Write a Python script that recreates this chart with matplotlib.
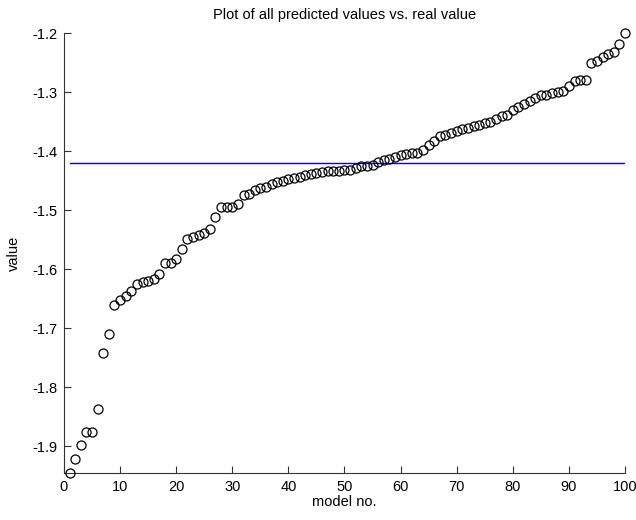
import numpy as np
import matplotlib
matplotlib.use('Agg')
import matplotlib.pyplot as plt

plt.rcParams['font.family'] = ['Liberation Sans', 'DejaVu Sans']
plt.rcParams['axes.unicode_minus'] = False

# predicted values, sorted, one per model
predicted = [
    -1.945, -1.922, -1.898, -1.876, -1.876, -1.837, -1.742, -1.710, -1.660, -1.652,
    -1.645, -1.637, -1.625, -1.622, -1.620, -1.617, -1.608, -1.590, -1.590, -1.582,
    -1.565, -1.548, -1.545, -1.542, -1.538, -1.532, -1.512, -1.495, -1.494, -1.494,
    -1.490, -1.475, -1.472, -1.465, -1.462, -1.460, -1.456, -1.452, -1.450, -1.447,
    -1.445, -1.443, -1.440, -1.438, -1.437, -1.435, -1.434, -1.433, -1.433, -1.432,
    -1.432, -1.428, -1.426, -1.425, -1.423, -1.418, -1.415, -1.413, -1.410, -1.407,
    -1.405, -1.404, -1.403, -1.398, -1.390, -1.382, -1.375, -1.372, -1.370, -1.366,
    -1.363, -1.360, -1.358, -1.355, -1.352, -1.350, -1.345, -1.340, -1.338, -1.330,
    -1.325, -1.320, -1.315, -1.310, -1.305, -1.305, -1.302, -1.300, -1.298, -1.290,
    -1.282, -1.280, -1.279, -1.250, -1.248, -1.240, -1.235, -1.232, -1.218, -1.200,
]
model_no = np.arange(1, len(predicted) + 1)
real_value = -1.420

fig = plt.figure(figsize=(6.36, 5.2), dpi=100)
ax = fig.add_axes([0.1006, 0.0904, 0.8821, 0.8461])

ax.plot(model_no, predicted, 'o', mfc='none', mec='black', ms=6.5, mew=0.9, clip_on=False, zorder=3)
ax.plot([model_no[0], model_no[-1]], [real_value, real_value], color='blue', lw=1)

ax.set_xlim(0, 100)
ax.set_ylim(min(predicted), max(predicted))
ax.set_xticks(np.arange(0, 101, 10))
yt = np.round(np.arange(-1.9, -1.15, 0.1), 1)
ax.set_yticks(yt)
ax.set_yticklabels(['%.1f' % v for v in yt])

ax.spines['top'].set_visible(False)
ax.spines['right'].set_visible(False)
for s in ['left', 'bottom']:
    ax.spines[s].set_color('#333333')
ax.tick_params(direction='in', length=5, labelsize=10.5, pad=5, color='#333333')

ax.set_title('Plot of all predicted values vs. real value', fontsize=10.5, pad=10)
ax.set_xlabel('model no.', fontsize=10.5, labelpad=1)
ax.set_ylabel('value', fontsize=10.5, labelpad=8)

fig.savefig('out.png', dpi=100)
